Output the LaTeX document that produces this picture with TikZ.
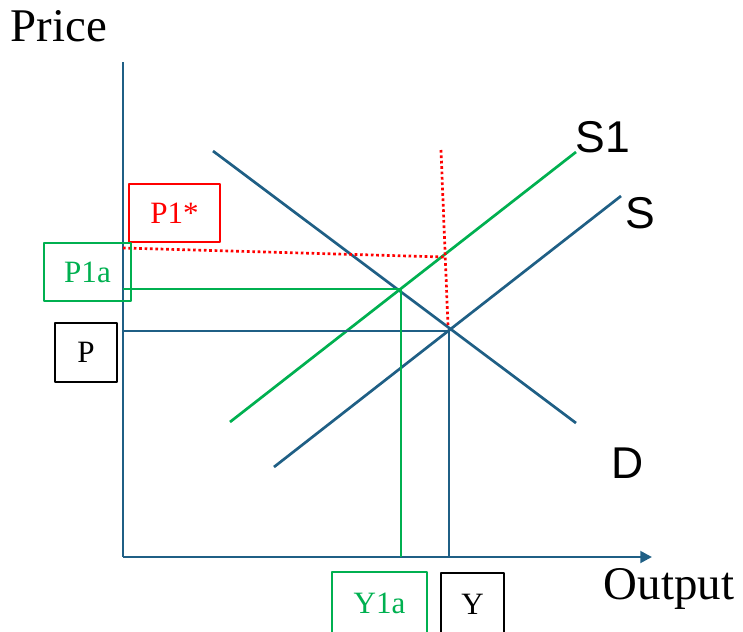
\documentclass[tikz,border=0pt]{standalone}
\usepackage{fontspec}
\setmainfont{Liberation Serif}
\newfontfamily\labelsans{Liberation Sans}
\usetikzlibrary{arrows.meta}

\definecolor{axisblue}{HTML}{1F5F85}
\definecolor{shiftgreen}{HTML}{00B050}

\begin{document}
\begin{tikzpicture}[
  x=0.03cm,
  y=-0.03cm,
  line cap=butt,
  line join=round,
  axis/.style={draw=axisblue,line width=2.3pt},
  curve/.style={draw=axisblue,line width=2.3pt},
  newcurve/.style={draw=shiftgreen,line width=2.3pt},
  guide/.style={draw=axisblue,line width=2.3pt},
  newguide/.style={draw=shiftgreen,line width=2.3pt},
  hint/.style={draw=red,line width=2.3pt,dash pattern=on 2.3pt off 2.3pt},
  valbox/.style={
    draw=black,
    line width=1.5pt,
    inner sep=0pt,
    font=\fontsize{26.5}{30}\selectfont,
    text=black
  },
  curvelabel/.style={font=\labelsans\fontsize{38}{44}\selectfont,text=black},
  axislabel/.style={font=\fontsize{40}{44}\selectfont,text=black}
]
\useasboundingbox (0,0) rectangle (743,631);

% Axes with their titles.
\coordinate (o)    at (123,557);
\coordinate (ytop) at (123,62);
\coordinate (xend) at (652,557);
\draw[axis] (ytop) -- (o);
\draw[axis,-{Triangle[length=10pt,width=10pt]}] (o) -- (xend);
\node[axislabel] (price)  at (59,26)   {Price};
\node[axislabel] (output) at (669,589) {Output};

% Demand and the two supply curves.
\coordinate (d0)  at (213,151);
\coordinate (d1)  at (576,423);
\coordinate (s0)  at (274,467);
\coordinate (s1)  at (621,196);
\coordinate (t0)  at (230,422);
\coordinate (t1)  at (576,152);
\draw[curve]    (d0) -- (d1);
\draw[curve]    (s0) -- (s1);
\draw[newcurve] (t0) -- (t1);

\node[curvelabel] (lblS1) at (603,137) {S1};
\node[curvelabel] (lblS)  at (640,213) {S};
\node[curvelabel] (lblD)  at (628,463) {D};

% Equilibria.
\coordinate (e)   at (449,331);
\coordinate (e1)  at (401,289);
\coordinate (ep)  at (123,331);
\coordinate (ey)  at (449,557);
\coordinate (e1p) at (123,289);
\coordinate (e1y) at (401,557);
\draw[guide]    (ep) -- (e) -- (ey);
\draw[newguide] (e1p) -- (e1) -- (e1y);

% Expected price: dotted red guides.
\coordinate (hp)   at (123,248);
\coordinate (hx)   at (444,257);
\coordinate (htop) at (441,150);
\coordinate (hbot) at (448,326);
\draw[hint] (hp) -- (hx);
\draw[hint] (htop) -- (hbot);

% Value boxes on the axes.
\node[valbox,draw=red,text=red,
      minimum width=2.73cm,minimum height=1.74cm] (boxP1s) at (174.5,213) {P1*};
\node[valbox,draw=shiftgreen,text=shiftgreen,
      minimum width=2.61cm,minimum height=1.74cm] (boxP1a) at (87.5,272) {P1a};
\node[valbox,minimum width=1.86cm,minimum height=1.77cm] (boxP) at (86,352.5) {P};
\node[valbox,draw=shiftgreen,text=shiftgreen,
      minimum width=2.85cm,minimum height=1.86cm] (boxY1a) at (379.5,603) {Y1a};
\node[valbox,minimum width=1.89cm,minimum height=1.86cm] (boxY) at (472.5,604) {Y};

\end{tikzpicture}
\end{document}
